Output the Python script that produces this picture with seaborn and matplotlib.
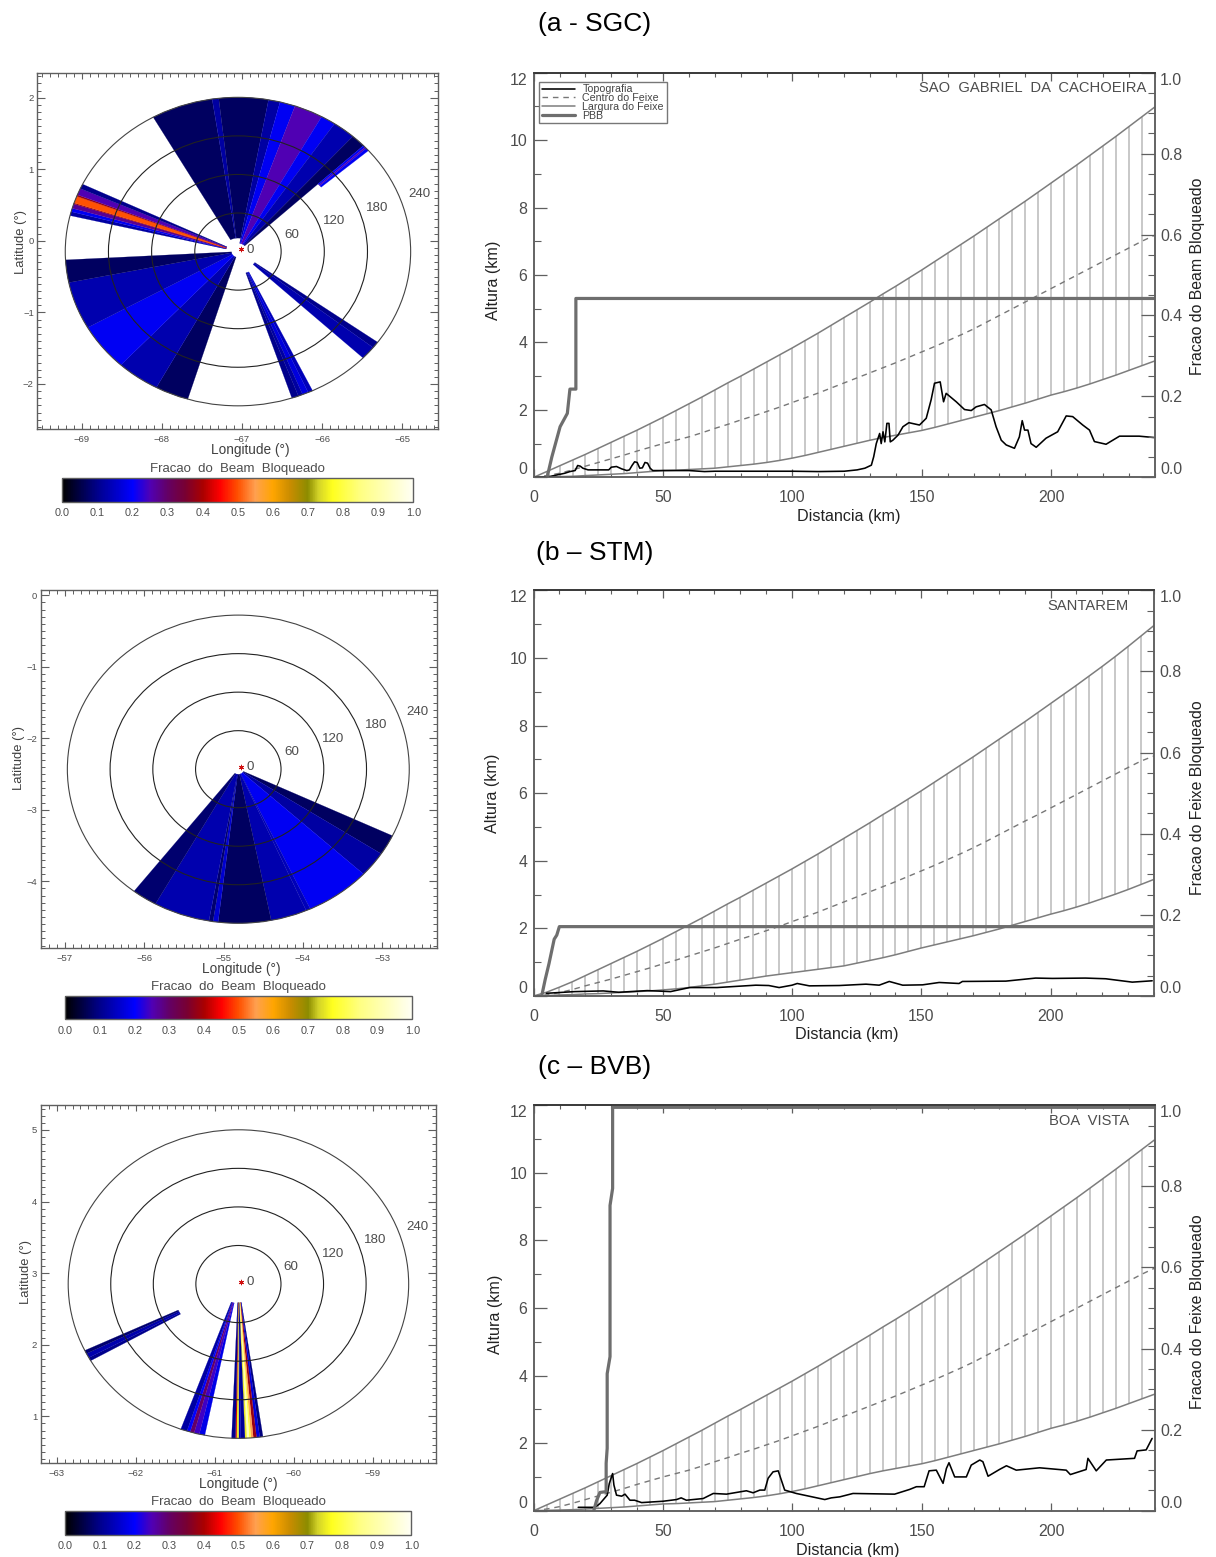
import numpy as np
import matplotlib
matplotlib.use("Agg")
import matplotlib.pyplot as plt
from matplotlib.cm import ScalarMappable
from matplotlib.colors import LinearSegmentedColormap, Normalize
from matplotlib.patches import Ellipse
from matplotlib.ticker import MultipleLocator
import seaborn as sns

# ── palette of the blockage scale ─────────────────────────
cmap_pos = [0, 0.1, 0.2, 0.25, 0.3, 0.35, 0.4, 0.45, 0.5, 0.55, 0.6, 0.65, 0.7, 0.73, 0.77, 0.85, 1.0]
cmap_col = ["#000000", "#00008c", "#0000ff", "#5000b4", "#640064", "#780032", "#aa0000", "#ff0000",
            "#ff5000", "#ffa050", "#ffa500", "#c88c00", "#8c8c00", "#d2d228", "#ffff1e", "#ffff82", "#fffff5"]

# ── beam geometry, km every 5 km ──────────────────────────
dist = np.arange(0, 245, 5)
upper_a = [0, .17, .34, .51, .68, .86, 1.04, 1.22, 1.4, 1.59, 1.78, 1.98, 2.18, 2.38, 2.59, 2.8, 3.0, 3.21, 3.42, 3.63,
           3.84, 4.06, 4.28, 4.51, 4.74, 4.97, 5.2, 5.44, 5.67, 5.91, 6.15, 6.4, 6.65, 6.9, 7.15, 7.41, 7.67, 7.93,
           8.19, 8.46, 8.73, 9.0, 9.27, 9.55, 9.83, 10.11, 10.4, 10.69, 10.98]
center_a = [0, .05, .12, .22, .33, .44, .55, .66, .78, .89, 1.0, 1.1, 1.2, 1.32, 1.45, 1.57, 1.7, 1.82, 1.95, 2.08,
            2.22, 2.36, 2.5, 2.65, 2.8, 2.95, 3.1, 3.25, 3.4, 3.56, 3.72, 3.88, 4.05, 4.22, 4.4, 4.6, 4.8, 5.0, 5.2,
            5.4, 5.6, 5.8, 6.0, 6.2, 6.4, 6.6, 6.8, 7.0, 7.18]
lower_a = [0, .01, .02, .03, .05, .07, .09, .11, .14, .17, .2, .21, .23, .25, .27, .31, .35, .39, .44, .5,
           .57, .65, .74, .83, .92, 1.01, 1.1, 1.18, 1.25, 1.32, 1.39, 1.48, 1.58, 1.68, 1.78, 1.88, 1.98, 2.09, 2.2,
           2.32, 2.44, 2.54, 2.65, 2.77, 2.9, 3.03, 3.17, 3.31, 3.45]
upper_b = [0, .11, .26, .42, .6, .78, .96, 1.14, 1.32, 1.51, 1.7, 1.9, 2.1, 2.3, 2.51, 2.72, 2.92, 3.13, 3.34, 3.55,
           3.76, 3.98, 4.2, 4.43, 4.66, 4.89, 5.12, 5.36, 5.59, 5.83, 6.07, 6.32, 6.57, 6.82, 7.07, 7.33, 7.59, 7.85,
           8.11, 8.38, 8.65, 8.92, 9.19, 9.47, 9.75, 10.04, 10.34, 10.65, 10.96]
center_b = [0, .03, .1, .19, .3, .4, .5, .61, .72, .83, .95, 1.06, 1.18, 1.3, 1.42, 1.55, 1.68, 1.8, 1.93, 2.06,
            2.2, 2.34, 2.48, 2.63, 2.78, 2.93, 3.08, 3.23, 3.38, 3.54, 3.7, 3.86, 4.03, 4.2, 4.38, 4.57, 4.77, 4.97,
            5.17, 5.36, 5.56, 5.76, 5.96, 6.16, 6.36, 6.56, 6.76, 6.95, 7.1]
lower_b = [0, .01, .03, .04, .06, .07, .09, .11, .13, .15, .18, .21, .25, .3, .35, .41, .47, .53, .59, .64,
           .69, .74, .79, .84, .89, .97, 1.05, 1.13, 1.22, 1.32, 1.42, 1.51, 1.6, 1.69, 1.78, 1.88, 1.98, 2.09, 2.2,
           2.31, 2.42, 2.52, 2.63, 2.75, 2.88, 3.01, 3.15, 3.3, 3.45]

# ── topography profiles ───────────────────────────────────
topo_a_km = [0, 6, 9, 12, 14, 16, 17, 18, 19, 21, 29, 30, 32, 34, 36, 37, 38, 39, 40, 41, 42, 43, 44, 45, 46, 50, 60,
             66, 70, 100, 110, 120, 125, 128, 130.5, 131.4, 132.4, 133.7, 134.3, 135, 135.7, 136.5, 137.3, 137.8,
             138.8, 140.8, 142.7, 145, 149.1, 151.7, 153.6, 154.9, 157.1, 158.4, 159.4, 163.3, 166.5, 169.1, 171,
             174.2, 176.8, 178.7, 180.7, 182.6, 185.8, 187.7, 188.8, 189.7, 191, 192.2, 194.2, 198, 202.5, 205.8,
             208.3, 212.2, 214.8, 216.7, 221.2, 226.4, 234, 239.7]
topo_a_h = [0, .02, .07, .12, .17, .2, .35, .33, .27, .22, .22, .3, .32, .25, .2, .22, .35, .46, .44, .27, .28, .44,
            .42, .27, .2, .2, .2, .17, .18, .18, .17, .18, .22, .27, .36, .61, 1.0, 1.3, 1.0, 1.35, 1.05, 1.6, 1.6,
            1.05, 1.1, 1.25, 1.5, 1.62, 1.55, 1.75, 2.3, 2.79, 2.83, 2.24, 2.49, 2.24, 2.01, 1.98, 2.09, 2.16, 2.0,
            1.5, 1.1, .96, .86, 1.2, 1.68, 1.4, 1.4, 1.0, .89, 1.16, 1.35, 1.82, 1.8, 1.55, 1.4, 1.06, .98, 1.22,
            1.22, 1.18]
topo_b_km = [5, 16, 27, 33, 44, 53, 60.4, 71, 86, 91, 95, 100, 102, 106.7, 118.3, 128.6, 133.7, 137.6, 142.8, 150.5,
             156.9, 164.6, 165.9, 182.7, 194.2, 200.7, 213.5, 221.3, 231.6, 239.3]
topo_b_h = [.08, .13, .15, .11, .16, .13, .25, .25, .32, .31, .25, .32, .37, .3, .31, .35, .32, .43, .32, .33,
            .4, .37, .43, .44, .53, .52, .53, .51, .41, .45]
topo_c_km = [17.2, 23.7, 25.6, 28.4, 29.2, 30.5, 31, 32, 34, 35.3, 37.2, 39, 41.7, 50, 55.2, 57, 59, 65.5, 69.4, 74.5,
             82.2, 84.8, 87.4, 89.3, 90.6, 92.5, 94.5, 97, 101.5, 112.5, 115, 118.3, 123.4, 139.5, 145.3, 147.9, 150.9,
             152.8, 155.6, 158.2, 159.5, 160.5, 162.7, 167.2, 169.1, 172.4, 173.6, 175.6, 180, 182.7, 186.5, 195.5,
             205.8, 207.4, 213.5, 214.2, 217.4, 221.3, 232.2, 233.2, 236.7, 239]
topo_c_h = [.1, .1, .21, .46, .8, 1.1, .76, .46, .43, .49, .31, .31, .24, .28, .33, .38, .31, .36, .51, .49,
            .59, .53, .61, .61, .96, 1.15, 1.18, .61, .51, .33, .38, .41, .51, .49, .63, .71, .71,
            1.18, 1.2, .81, 1.25, 1.42, 1.0, 1.0, 1.35, 1.5, 1.45, 1.02, 1.22, 1.33, 1.2, 1.27,
            1.2, 1.07, 1.22, 1.55, 1.18, 1.5, 1.55, 1.77, 1.8, 2.14]

# ── partial beam blockage, fraction ───────────────────────
pbb_a_km = [0, 5, 7, 10.2, 13, 14, 16.3, 16.3, 240]
pbb_a = [-.005, -.005, .05, .125, .158, .218, .218, .442, .442]
pbb_b_km = [0, 3, 4.5, 6, 8, 9, 10, 240]
pbb_b = [-.005, -.005, .04, .08, .14, .15, .171, .171]
pbb_c_km = [0, 23, 24.3, 25.6, 28, 28, 28.4, 28.4, 29.5, 29.5, 30.5, 30.5, 240]
pbb_c = [-.005, -.005, .025, .045, .047, .117, .154, .338, .38, .753, .795, .995, .995]

# ── blocked sectors: azimuth edges (deg), blockage per band ─
sgc_top_l_az = [-29.4, -8.6, -6.4, 10.2]
sgc_top_l_val = [.07, .12, .07]
sgc_top_r_az = [10.2, 14.1, 19.3, 29, 34, 41.7, 46.6]
sgc_top_r_val = [.12, .19, .25, .19, .13, .07]
sgc_strip_az = [46.6, 47.4, 48, 49.1]
sgc_strip_val = [.19, .25, .19]
sgc_red_az = [283.5, 285, 286.3, 288, 288.4, 291, 291.6, 294.1, 295.9]
sgc_red_val = [.12, .19, .27, .38, .5, .38, .25, .1]
sgc_low_az = [196.9, 208.2, 222.7, 240.5, 258.4, 266.9]
sgc_low_val = [.07, .13, .19, .13, .07]
sgc_se_az = [126, 128.5, 133.6]
sgc_se_val = [.1, .13]
sgc_s_az = [154.4, 156, 158, 159.5, 161.8]
sgc_s_val = [.14, .17, .12, .1]

stm_az = [115.6, 123.3, 132.9, 155.1, 156.6, 168.9, 186.8, 188.5, 189.9, 209, 217.6]
stm_val = [.07, .12, .19, .14, .13, .07, .16, .08, .13, .08]

bvb_w_az = [240.2, 241.5, 243.2, 244.5]
bvb_w_val = [.1, .13, .08]
bvb_m_az = [191.4, 193.3, 195.1, 196.5, 197.6, 199.8]
bvb_m_val = [.18, .24, .3, .2, .12]
bvb_r_az = [171.7, 172.8, 173.9, 175, 175.8, 176.4, 177.2, 177.8, 179.2, 179.9, 180.6, 181, 182.3]
bvb_r_val = [.09, .17, .38, .55, .8, .92, .75, .11, .14, .75, .42, .1]

ring_km = [60, 120, 180, 240]
ring_labels = ["60", "120", "180", "240"]
ring_label_km = [79, 141, 205, 267]
lon_ticks_a = [-69, -68, -67, -66, -65]
lon_ticks_b = [-57, -56, -55, -54, -53]
lon_ticks_c = [-63, -62, -61, -60, -59]
lat_ticks_a = [-2, -1, 0, 1, 2]
lat_ticks_b = [-4, -3, -2, -1, 0]
lat_ticks_c = [1, 2, 3, 4, 5]
height_ticks = [0, 2, 4, 6, 8, 10, 12]
frac_ticks = [0, .2, .4, .6, .8, 1.0]
dist_ticks = [0, 50, 100, 150, 200]
legend_labels = ["Topografia", "Centro do Feixe", "Largura do Feixe", "PBB"]

W, H = 1216, 1557
DEG240 = 2.155
TXT = "#4d4d4d"
EDGE = "#5f5f5f"

sns.set_style("white")
plt.rcParams["font.family"] = ["Liberation Sans", "DejaVu Sans"]

cmap = LinearSegmentedColormap.from_list("beam", list(zip(cmap_pos, cmap_col)), N=512)
norm = Normalize(0, 1)

fig = plt.figure(figsize=(W / 100, H / 100), dpi=100, facecolor="white")


def axes_px(left, top, right, bottom):
    return fig.add_axes([left / W, 1 - bottom / H, (right - left) / W, (bottom - top) / H])


def text_px(x, y, s, **kw):
    kw.setdefault("ha", "center")
    kw.setdefault("va", "center")
    fig.text(x / W, 1 - y / H, s, **kw)


def polar_pt(lon0, lat0, az, r):
    a = np.radians(az)
    k = DEG240 * np.asarray(r) / 240.0
    return lon0 + k * np.sin(a), lat0 + k * np.cos(a)


def draw_sector_group(ax, lon0, lat0, edges, values, r0, r1=240):
    for a1, a2, v in zip(edges[:-1], edges[1:], values):
        az = np.linspace(a1, a2, 12)
        xo, yo = polar_pt(lon0, lat0, az, r1)
        xi, yi = polar_pt(lon0, lat0, az[::-1], r0)
        ax.fill(np.r_[xo, xi], np.r_[yo, yi], color=cmap(norm(v)), lw=0.15, zorder=2)


def draw_map(box, xlim, ylim, lon0, lat0, xticks, yticks, groups):
    ax = axes_px(*box)
    ax.set_xlim(*xlim)
    ax.set_ylim(*ylim)
    for edges, values, r0 in groups:
        draw_sector_group(ax, lon0, lat0, edges, values, r0)
    for r, lab, rl in zip(ring_km, ring_labels, ring_label_km):
        d = 2 * DEG240 * r / 240.0
        ax.add_patch(Ellipse((lon0, lat0), d, d, fill=False, ec="#222222" if r < 240 else "#444444", lw=0.8, zorder=3))
        x, y = polar_pt(lon0, lat0, 70.5, rl)
        ax.text(x, y, lab, fontsize=9.6, color=TXT, ha="center", va="center", zorder=4)
    x, y = polar_pt(lon0, lat0, 80, 17)
    ax.text(x, y, "0", fontsize=9.6, color=TXT, ha="center", va="center", zorder=4)
    ax.scatter([lon0 + .035], [lat0 + .035], marker=(6, 2, 0), s=11, color="#d01010", lw=0.7, zorder=5)

    ax.set_xticks(xticks)
    ax.set_yticks(yticks)
    ax.xaxis.set_minor_locator(MultipleLocator(.1))
    ax.yaxis.set_minor_locator(MultipleLocator(.1))
    ax.tick_params(axis="x", which="major", direction="in", length=4, width=.8, color=EDGE, top=True, bottom=True,
                   labelsize=6.8, labelcolor=TXT, pad=4)
    ax.tick_params(axis="y", which="major", direction="in", length=6, width=.8, color=EDGE, left=True, right=True,
                   labelsize=6.8, labelcolor=TXT, pad=2.5)
    ax.tick_params(axis="both", which="minor", direction="in", length=2.6, width=.7, color=EDGE, top=True, bottom=True,
                   left=True, right=True)
    for s in ax.spines.values():
        s.set_color(EDGE)
        s.set_linewidth(1.0)
    return ax


def draw_colorbar(box, title_xy):
    cax = axes_px(*box)
    cb = fig.colorbar(ScalarMappable(norm, cmap), cax=cax, orientation="horizontal")
    cb.set_ticks(np.arange(0, 1.01, .1))
    cb.set_ticklabels([f"{v:.1f}" for v in np.arange(0, 1.01, .1)])
    cax.xaxis.set_minor_locator(MultipleLocator(.05))
    cax.tick_params(axis="x", which="major", direction="in", length=2.4, width=.6, color="#444444", top=True,
                    bottom=True, labelsize=7.8, labelcolor=TXT, pad=4.5)
    cax.tick_params(axis="x", which="minor", direction="in", length=2.4, width=.5, color="#444444", top=True,
                    bottom=False)
    cb.outline.set_edgecolor(EDGE)
    cb.outline.set_linewidth(1.0)
    text_px(*title_xy, "Fracao  do  Beam  Bloqueado", fontsize=9.5, color=TXT)


def draw_profile(box, upper, center, lower, topo_km, topo_h, pbb_km, pbb, station, station_xy, legend=False):
    ax = axes_px(*box)
    ax.vlines(dist[1:-1], lower[1:-1], upper[1:-1], color="#c4c4c4", lw=1.3, zorder=1)
    sns.lineplot(x=topo_km, y=topo_h, ax=ax, color="black", lw=1.15, estimator=None, sort=False, errorbar=None,
                 zorder=3)
    sns.lineplot(x=dist, y=center, ax=ax, color="#777777", lw=1.0, estimator=None, sort=False, errorbar=None,
                 linestyle=(0, (4, 3.5)), zorder=2)
    sns.lineplot(x=dist, y=upper, ax=ax, color="#7d7d7d", lw=1.1, estimator=None, sort=False, errorbar=None, zorder=2)
    sns.lineplot(x=dist, y=lower, ax=ax, color="#7d7d7d", lw=1.1, estimator=None, sort=False, errorbar=None, zorder=2)
    ax.set_xlim(0, 240)
    ax.set_ylim(0, 12)
    ax.set_xlabel("")
    ax.set_ylabel("")
    ax.set_xticks(dist_ticks)
    ax.set_yticks(height_ticks)
    ax.xaxis.set_minor_locator(MultipleLocator(10))
    ax.yaxis.set_minor_locator(MultipleLocator(1))
    ax.tick_params(axis="x", which="major", direction="in", length=6, width=.9, color=EDGE, top=True, bottom=True,
                   labelsize=11.4, labelcolor=TXT, pad=9.5)
    ax.tick_params(axis="x", which="minor", direction="in", length=3, width=.8, color=EDGE, top=True, bottom=True)
    ax.tick_params(axis="y", which="major", direction="in", length=9, width=.9, color=EDGE, left=True, right=False,
                   labelsize=11.4, labelcolor=TXT, pad=4.5)
    ax.tick_params(axis="y", which="minor", direction="in", length=5, width=.8, color=EDGE, left=True, right=False)
    labs = ax.get_yticklabels()
    labs[0].set_va("bottom")
    labs[-1].set_va("top")

    ax2 = ax.twinx()
    sns.lineplot(x=pbb_km, y=pbb, ax=ax2, color="#6e6e6e", lw=2.3, estimator=None, sort=False, errorbar=None)
    ax2.set_ylim(0, 1)
    ax2.set_ylabel("")
    ax2.set_yticks(frac_ticks)
    ax2.set_yticklabels([f"{v:.1f}" for v in frac_ticks])
    ax2.yaxis.set_minor_locator(MultipleLocator(.05))
    ax2.tick_params(axis="y", which="major", direction="in", length=10, width=.9, color=EDGE, left=False, right=True,
                    labelsize=11.4, labelcolor=TXT, pad=3.8)
    ax2.tick_params(axis="y", which="minor", direction="in", length=5, width=.8, color=EDGE, left=False, right=True)
    labs = ax2.get_yticklabels()
    labs[0].set_va("bottom")
    labs[-1].set_va("top")

    for a in (ax, ax2):
        for s in a.spines.values():
            s.set_color(EDGE)
            s.set_linewidth(1.1)
        a.spines["top"].set_color("#333333")
        a.grid(False)

    text_px(*station_xy, station, ha="right", fontsize=10.6, color=TXT)

    if legend:
        ln = ax.get_lines()
        handles = [ln[0], ln[1], ln[2], ax2.get_lines()[0]]
        lg = ax2.legend(handles, legend_labels, loc="upper left", bbox_to_anchor=(5.6 / 621, 1 - 9 / 405),
                        borderaxespad=0, fontsize=7.7, frameon=True, fancybox=False, edgecolor="#777777", framealpha=1,
                        labelspacing=-0.12, handlelength=3.1, handletextpad=.68, borderpad=.25, labelcolor="#444444")
        lg.get_frame().set_linewidth(1.0)
    return ax


# (a) Sao Gabriel da Cachoeira
draw_map((37.3, 72.7, 438.3, 429.3), (-69.554, -64.55), (-2.633, 2.349), -67.05, -.15, lon_ticks_a, lat_ticks_a,
         [(sgc_top_l_az, sgc_top_l_val, 21), (sgc_top_r_az, sgc_top_r_val, 13), (sgc_strip_az, sgc_strip_val, 153),
          (sgc_red_az, sgc_red_val, 17), (sgc_low_az, sgc_low_val, 9), (sgc_se_az, sgc_se_val, 29),
          (sgc_s_az, sgc_s_val, 35)])
draw_colorbar((62.3, 477.7, 413.3, 501.7), (237.7, 468.7))
draw_profile((533.7, 72.7, 1154.7, 477.3), upper_a, center_a, lower_a, topo_a_km, topo_a_h, pbb_a_km, pbb_a,
             "SAO  GABRIEL  DA  CACHOEIRA", (1146, 88), legend=True)

# (b) Santarem
draw_map((40.7, 590.3, 436.7, 948), (-57.306, -52.314), (-4.933, .07), -54.815, -2.432, lon_ticks_b, lat_ticks_b,
         [(stm_az, stm_val, 8)])
draw_colorbar((65.3, 996, 412.3, 1019.3), (238.7, 986.7))
draw_profile((533.5, 590.3, 1154, 996), upper_b, center_b, lower_b, topo_b_km, topo_b_h, pbb_b_km, pbb_b,
             "SANTAREM", (1129, 606))

# (c) Boa Vista
draw_map((40.7, 1105.3, 436, 1463.3), (-63.203, -58.199), (.344, 5.345), -60.70, 2.848, lon_ticks_c, lat_ticks_c,
         [(bvb_w_az, bvb_w_val, 94), (bvb_m_az, bvb_m_val, 30), (bvb_r_az, bvb_r_val, 29)])
draw_colorbar((65.3, 1510.7, 411.3, 1534.7), (238.3, 1502))
draw_profile((533.7, 1105.3, 1154.7, 1510.7), upper_a, center_a, lower_a, topo_c_km, topo_c_h, pbb_c_km, pbb_c,
             "BOA  VISTA", (1129, 1121))

# titles and axis names
for x, y, s in [(595, 24, "(a - SGC)"), (595, 553, "(b – STM)"), (595, 1067, "(c – BVB)")]:
    text_px(x, y, s, fontsize=19, color="black")
for x, y in [(250.7, 450.3), (241.7, 969.3), (238, 1484.3)]:
    text_px(x, y, "Longitude (°)", fontsize=9.8, color="#404040")
for x, y in [(21, 242.3), (19.3, 758.3), (26, 1272.3)]:
    text_px(x, y, "Latitude (°)", fontsize=9.4, color="#404040", rotation=90)
for x, y in [(849, 517), (847, 1035), (848, 1550)]:
    text_px(x, y, "Distancia (km)", fontsize=11.6, color="#222222")
for x, y in [(493.7, 280), (493, 793), (495.3, 1314)]:
    text_px(x, y, "Altura (km)", fontsize=11.6, color="#222222", rotation=90)
for x, y, s in [(1197.5, 276.7, "Fracao do Beam Bloqueado"), (1197.5, 798, "Fracao do Feixe Bloqueado"),
                (1197.5, 1312, "Fracao do Feixe Bloqueado")]:
    text_px(x, y, s, fontsize=11.4, color="#222222", rotation=90)

fig.savefig("out.png", dpi=100)
